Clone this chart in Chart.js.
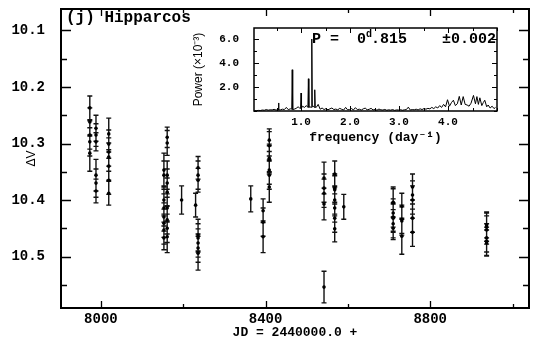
<!DOCTYPE html>
<html>
<head>
<meta charset="utf-8">
<script src="https://cdn.jsdelivr.net/npm/chart.js@4.4.1/dist/chart.umd.min.js"></script>
<style>
  html, body { margin: 0; padding: 0; background: #fff; }
  #wrap { position: relative; width: 533px; height: 339px; overflow: hidden; }
  #main { position: absolute; left: 0; top: 0; }
  #inset { position: absolute; left: 180px; top: 20px; }
</style>
</head>
<body>
<div id="wrap">
  <canvas id="main" width="533" height="339"></canvas>
  <canvas id="inset" width="325" height="130"></canvas>
</div>
<script>
// Hipparcos photometry: one line per observing epoch
const jdDays = [
  7973, 7973, 7973, 7973, 7973,
  7988, 7988, 7988, 7988, 7988, 7988,
  8019, 8019, 8019, 8019, 8019, 8019, 8019,
  8153, 8153, 8153, 8153, 8153, 8153, 8153, 8153,
  8161, 8161, 8161, 8161, 8161, 8161, 8161, 8161, 8161,
  8196,
  8230,
  8236, 8236, 8236, 8236, 8236, 8236, 8236, 8236,
  8364,
  8394, 8394, 8394,
  8409, 8409, 8409, 8409, 8409, 8409, 8409,
  8542, 8542, 8542, 8542, 8542,
  8568, 8568, 8568, 8568, 8568, 8568, 8568,
  8590,
  8710, 8710, 8710, 8710, 8710, 8710, 8710,
  8731, 8731, 8731, 8731,
  8757, 8757, 8757, 8757, 8757,
  8937, 8937, 8937, 8937, 8937, 8937
];
const deltaV = [
  10.237, 10.262, 10.285, 10.297, 10.317,
  10.273, 10.285, 10.297, 10.356, 10.370, 10.384,
  10.283, 10.301, 10.315, 10.324, 10.340, 10.365, 10.388,
  10.347, 10.356, 10.400, 10.414, 10.430, 10.441, 10.453, 10.467,
  10.289, 10.299, 10.356, 10.370, 10.386, 10.414, 10.435, 10.450, 10.465,
  10.400,
  10.409,
  10.343, 10.356, 10.365, 10.462, 10.467, 10.476, 10.485, 10.494,
  10.398,
  10.419, 10.439, 10.465,
  10.294, 10.304, 10.326, 10.329, 10.347, 10.356, 10.377,
  10.361, 10.379, 10.388, 10.407, 10.554,
  10.354, 10.379, 10.382, 10.400, 10.414, 10.432, 10.451,
  10.412,
  10.404, 10.405, 10.423, 10.430, 10.432, 10.442, 10.450,
  10.411, 10.434, 10.437, 10.464,
  10.377, 10.391, 10.400, 10.432, 10.457,
  10.444, 10.448, 10.453, 10.467, 10.473, 10.476
];
const sigmaV = [
  0.021, 0.025, 0.025, 0.025, 0.032,
  0.023, 0.020, 0.016, 0.028, 0.025, 0.021,
  0.028, 0.025, 0.025, 0.025, 0.025, 0.025, 0.021,
  0.030, 0.025, 0.025, 0.025, 0.025, 0.025, 0.025, 0.021,
  0.018, 0.022, 0.025, 0.025, 0.025, 0.025, 0.025, 0.025, 0.028,
  0.025,
  0.021,
  0.020, 0.025, 0.021, 0.028, 0.025, 0.025, 0.025, 0.030,
  0.023,
  0.021, 0.025, 0.028,
  0.020, 0.025, 0.025, 0.025, 0.025, 0.025, 0.027,
  0.028, 0.025, 0.025, 0.028, 0.028,
  0.023, 0.025, 0.025, 0.025, 0.025, 0.025, 0.023,
  0.022,
  0.027, 0.025, 0.025, 0.025, 0.025, 0.025, 0.020,
  0.023, 0.025, 0.025, 0.032,
  0.023, 0.025, 0.025, 0.025, 0.025,
  0.023, 0.025, 0.025, 0.025, 0.025, 0.023
];

// power spectrum, sampled more finely around the strong peaks
const freq = [
  0.05, 0.09, 0.13, 0.17, 0.21, 0.25, 0.29, 0.33, 0.37, 0.41,
  0.45, 0.49, 0.53, 0.54, 0.55, 0.58, 0.62, 0.66, 0.70, 0.74, 0.78, 0.81, 0.82, 0.83,
  0.86, 0.90, 0.94, 0.97, 0.99, 1.00, 1.01, 1.03, 1.07, 1.11, 1.14, 1.15, 1.16, 1.18,
  1.21, 1.22, 1.23, 1.25, 1.27, 1.28, 1.29, 1.31, 1.35, 1.39, 1.43, 1.47, 1.51, 1.55,
  1.59, 1.63, 1.67, 1.71, 1.75, 1.79, 1.83, 1.87, 1.91, 1.95,
  1.99, 2.03, 2.07, 2.11, 2.15, 2.19, 2.23, 2.27, 2.31, 2.35,
  2.39, 2.43, 2.47, 2.51, 2.55, 2.59, 2.63, 2.67, 2.71, 2.75,
  2.79, 2.83, 2.87, 2.91, 2.95, 2.99, 3.03, 3.07, 3.11, 3.15,
  3.19, 3.23, 3.27, 3.31, 3.35, 3.39, 3.43, 3.47, 3.51, 3.55,
  3.59, 3.63, 3.67, 3.71, 3.75, 3.79, 3.83, 3.87, 3.91, 3.95,
  3.99, 4.03, 4.07, 4.11, 4.15, 4.19, 4.23, 4.27, 4.31, 4.35,
  4.39, 4.43, 4.47, 4.52, 4.56, 4.59, 4.62, 4.65, 4.69, 4.72,
  4.75, 4.79, 4.82, 4.86, 4.90, 4.94, 4.97
];
const power = [
  0.02, 0.03, 0.05, 0.04, 0.08, 0.06, 0.12, 0.07, 0.10, 0.09,
  0.14, 0.08, 0.10, 0.67, 0.08, 0.10, 0.15, 0.12, 0.30, 0.11, 0.18, 0.15, 3.44, 0.12,
  0.15, 0.22, 0.35, 0.25, 0.20, 1.50, 0.25, 0.40, 0.30, 0.45, 0.30, 2.69, 0.30, 0.35,
  0.30, 6.00, 0.35, 0.40, 0.30, 1.77, 0.30, 0.30, 0.55, 0.15, 0.25, 0.12, 0.20, 0.10,
  0.18, 0.25, 0.12, 0.16, 0.10, 0.22, 0.14, 0.08, 0.30, 0.10,
  0.12, 0.20, 0.09, 0.28, 0.11, 0.15, 0.08, 0.18, 0.24, 0.10,
  0.14, 0.22, 0.09, 0.12, 0.07, 0.16, 0.10, 0.08, 0.13, 0.06,
  0.10, 0.07, 0.12, 0.05, 0.09, 0.08, 0.11, 0.06, 0.10, 0.12,
  0.32, 0.08, 0.12, 0.10, 0.15, 0.09, 0.18, 0.12, 0.20, 0.15,
  0.22, 0.18, 0.30, 0.20, 0.35, 0.25, 0.45, 0.30, 0.55, 0.35,
  0.94, 0.40, 0.70, 0.90, 0.45, 0.60, 1.22, 0.50, 1.20, 0.55,
  0.50, 0.40, 0.65, 1.30, 0.60, 1.20, 0.55, 1.10, 0.45, 0.70,
  0.90, 0.35, 0.50, 0.25, 0.40, 0.20, 0.30
];

// labelled tick values
const jdLabels = [8000, 8400, 8800];
const dvLabels = [10.1, 10.2, 10.3, 10.4, 10.5];
const freqLabels = [1, 2, 3, 4];
const powerLabels = [2, 4, 6];

const MONO = '"Liberation Mono", "DejaVu Sans Mono", monospace';
const SANS = '"Liberation Sans", Arial, sans-serif';

const near = (v, list) => list.some(l => Math.abs(v - l) < 1e-6);

// fixed axis boxes, no extra room for end labels
const fixHeight = h => s => { s.height = h; s.paddingLeft = 0; s.paddingRight = 0; };
const fixWidth = w => s => { s.width = w; s.paddingTop = 0; s.paddingBottom = 0; };

// box frame with inward tick marks on all four sides
const frameTicks = {
  id: 'frameTicks',
  afterDraw(chart, args, o) {
    const { ctx, chartArea: a } = chart;
    const x = chart.scales.x, y = chart.scales.y;
    const xl = o.xLabels, yl = o.yLabels;
    ctx.save();
    ctx.strokeStyle = '#000';
    ctx.lineWidth = o.tickWidth;
    ctx.beginPath();
    x.ticks.forEach(t => {
      const px = Math.round(x.getPixelForValue(t.value)) + 0.5;
      const len = near(t.value, xl) ? o.xMajor : o.xMinor;
      ctx.moveTo(px, a.bottom); ctx.lineTo(px, a.bottom - len);
      ctx.moveTo(px, a.top); ctx.lineTo(px, a.top + len);
    });
    y.ticks.forEach(t => {
      const py = Math.round(y.getPixelForValue(t.value)) + 0.5;
      const len = near(t.value, yl) ? o.yMajor : o.yMinor;
      ctx.moveTo(a.left, py); ctx.lineTo(a.left + len, py);
      ctx.moveTo(a.right, py); ctx.lineTo(a.right - len, py);
    });
    ctx.stroke();
    ctx.lineWidth = o.frameWidth;
    ctx.strokeRect(a.left, a.top, a.right - a.left, a.bottom - a.top);
    ctx.restore();
  }
};

// vertical error bars with small caps
const errorBars = {
  id: 'errorBars',
  beforeDatasetsDraw(chart) {
    const { ctx } = chart;
    const x = chart.scales.x, y = chart.scales.y;
    ctx.save();
    ctx.strokeStyle = '#111';
    ctx.lineWidth = 1.4;
    ctx.beginPath();
    jdDays.forEach((d, i) => {
      const px = x.getPixelForValue(d);
      const top = y.getPixelForValue(deltaV[i] - sigmaV[i]);
      const bot = y.getPixelForValue(deltaV[i] + sigmaV[i]);
      ctx.moveTo(px, top); ctx.lineTo(px, bot);
      ctx.moveTo(px - 2.5, top); ctx.lineTo(px + 2.5, top);
      ctx.moveTo(px - 2.5, bot); ctx.lineTo(px + 2.5, bot);
    });
    ctx.stroke();
    ctx.restore();
  }
};

const panelLabel = {
  id: 'panelLabel',
  afterDraw(chart) {
    const { ctx, chartArea: a } = chart;
    ctx.save();
    ctx.fillStyle = '#000';
    ctx.font = 'bold 16px ' + MONO;
    ctx.textBaseline = 'middle';
    ctx.fillText('(j) Hipparcos', a.left + 5, a.top + 9);
    ctx.restore();
  }
};

// period annotation inside the periodogram box
const periodNote = {
  id: 'periodNote',
  afterDraw(chart) {
    const { ctx, chartArea: a } = chart;
    const yMid = a.top + 11;
    ctx.save();
    ctx.fillStyle = '#000';
    ctx.textBaseline = 'middle';
    ctx.font = 'bold 15px ' + MONO;
    ctx.fillText('P', a.left + 58, yMid);
    ctx.fillText('=', a.left + 76, yMid);
    ctx.fillText('0', a.left + 103, yMid);
    ctx.font = 'bold 10px ' + MONO;
    ctx.fillText('d', a.left + 112, yMid - 5);
    ctx.font = 'bold 15px ' + MONO;
    ctx.fillText('.815', a.left + 117, yMid);
    ctx.textAlign = 'right';
    ctx.fillText('\u00b10.002', a.right - 1, yMid);
    ctx.restore();
  }
};

new Chart(document.getElementById('main'), {
  type: 'scatter',
  data: {
    datasets: [{
      data: jdDays.map((d, i) => ({ x: d, y: deltaV[i] })),
      pointRadius: 1.8,
      pointBackgroundColor: '#000',
      pointBorderWidth: 0
    }]
  },
  options: {
    responsive: false,
    animation: false,
    events: [],
    layout: { padding: { left: 0, top: 9, right: 4, bottom: 0 } },
    plugins: {
      legend: { display: false },
      tooltip: { enabled: false },
      frameTicks: {
        xLabels: jdLabels, yLabels: dvLabels,
        xMajor: 7, xMinor: 4, yMajor: 10, yMinor: 6,
        tickWidth: 1.3, frameWidth: 2
      }
    },
    scales: {
      x: {
        type: 'linear',
        min: 7903, max: 9040,
        grid: { display: false, drawTicks: false },
        border: { display: false },
        afterFit: fixHeight(31),
        ticks: {
          stepSize: 200, includeBounds: false, autoSkip: false, maxRotation: 0,
          padding: 3, color: '#000',
          font: { family: MONO, size: 14, weight: 'bold' },
          callback: v => near(v, jdLabels) ? String(v) : ''
        },
        title: {
          display: true, text: 'JD = 2440000.0 +', color: '#000',
          padding: { top: 0, bottom: 0 },
          font: { family: MONO, size: 13, weight: 'bold', lineHeight: 1 }
        }
      },
      y: {
        type: 'linear',
        reverse: true,
        min: 10.062, max: 10.591,
        grid: { display: false, drawTicks: false },
        border: { display: false },
        afterFit: fixWidth(61),
        ticks: {
          stepSize: 0.05, includeBounds: false, autoSkip: false,
          padding: 16, color: '#000',
          font: { family: MONO, size: 14, weight: 'bold' },
          callback: v => near(v, dvLabels) ? v.toFixed(1) : ''
        },
        title: {
          display: true, text: '\u0394V', color: '#000',
          padding: { top: 26, bottom: 0 },
          font: { family: SANS, size: 12, lineHeight: 1 }
        }
      }
    }
  },
  plugins: [errorBars, frameTicks, panelLabel]
});

new Chart(document.getElementById('inset'), {
  type: 'scatter',
  data: {
    datasets: [{
      data: freq.map((f, i) => ({ x: f, y: power[i] })),
      showLine: true,
      borderColor: '#000',
      borderWidth: 1,
      pointRadius: 0,
      tension: 0
    }]
  },
  options: {
    responsive: false,
    animation: false,
    events: [],
    layout: { padding: { left: 0, top: 8, right: 8, bottom: 0 } },
    plugins: {
      legend: { display: false },
      tooltip: { enabled: false },
      frameTicks: {
        xLabels: freqLabels, yLabels: powerLabels,
        xMajor: 5, xMinor: 3, yMajor: 5, yMinor: 3,
        tickWidth: 1, frameWidth: 1.5
      }
    },
    scales: {
      x: {
        type: 'linear',
        min: 0.04, max: 5.0,
        grid: { display: false, drawTicks: false },
        border: { display: false },
        afterFit: fixHeight(39),
        ticks: {
          stepSize: 0.5, includeBounds: false, autoSkip: false, maxRotation: 0,
          padding: 5, color: '#000',
          font: { family: MONO, size: 11, weight: 'bold' },
          callback: v => near(v, freqLabels) ? v.toFixed(1) : ''
        },
        title: {
          display: true, text: 'frequency (day\u207b\u00b9)', color: '#000',
          padding: { top: 0, bottom: 6 },
          font: { family: MONO, size: 13, weight: 'bold', lineHeight: 1 }
        }
      },
      y: {
        type: 'linear',
        min: 0, max: 6.92,
        grid: { display: false, drawTicks: false },
        border: { display: false },
        afterFit: fixWidth(74),
        ticks: {
          stepSize: 1, includeBounds: false, autoSkip: false,
          padding: 15, color: '#000',
          font: { family: MONO, size: 11, weight: 'bold' },
          callback: v => near(v, powerLabels) ? v.toFixed(1) : ''
        },
        title: {
          display: true, text: 'Power (\u00d710\u207b\u00b3)', color: '#000',
          padding: { top: 13, bottom: 0 },
          font: { family: SANS, size: 12, lineHeight: 1 }
        }
      }
    }
  },
  plugins: [frameTicks, periodNote]
});
</script>
</body>
</html>
